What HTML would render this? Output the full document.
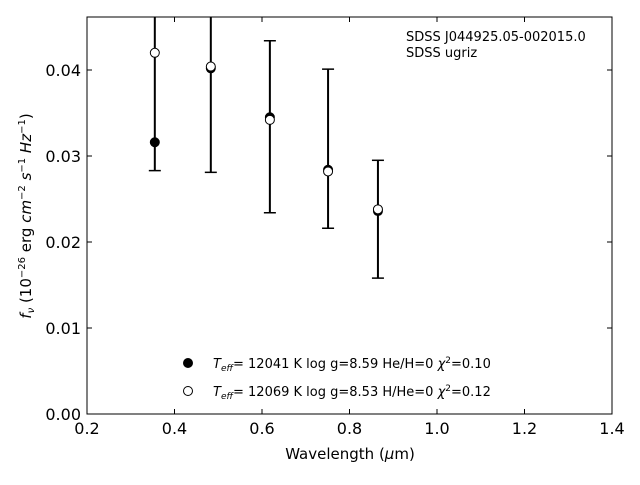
<!DOCTYPE html>
<html><head><meta charset="utf-8"><style>
body{margin:0;background:#fff;}
svg text{font-family:"DejaVu Sans","Liberation Sans",sans-serif;fill:#000;}
</style></head><body>
<svg id="chart" width="640" height="480" xmlns="http://www.w3.org/2000/svg">
<defs><clipPath id="clip"><rect x="87" y="17" width="525" height="397"/></clipPath></defs>
<g id="marks" clip-path="url(#clip)"></g>
<rect x="87" y="17" width="525" height="397" fill="none" stroke="#000" stroke-width="1"/>
<g id="axes"></g>
<text x="406" y="41" font-size="13">SDSS J044925.05-002015.0</text>
<text x="406" y="57" font-size="13">SDSS ugriz</text>
<text x="350" y="459" font-size="15" text-anchor="middle">Wavelength (<tspan font-style="italic">μ</tspan>m)</text>
<text transform="translate(31,216) rotate(-90)" font-size="15" text-anchor="middle"><tspan font-style="italic">f</tspan><tspan font-style="italic" font-size="10" dy="3">ν</tspan><tspan dy="-3"> (10</tspan><tspan font-size="10" dy="-6">−26</tspan><tspan dy="6"> erg </tspan><tspan font-style="italic">cm</tspan><tspan font-size="10" dy="-6">−2</tspan><tspan dy="6"> </tspan><tspan font-style="italic">s</tspan><tspan font-size="10" dy="-6">−1</tspan><tspan dy="6"> </tspan><tspan font-style="italic">Hz</tspan><tspan font-size="10" dy="-6">−1</tspan><tspan dy="6">)</tspan></text>
<g>
<circle cx="188" cy="363" r="4.5" fill="#000" stroke="#000"/>
<text x="213" y="368" font-size="13"><tspan font-style="italic">T</tspan><tspan font-style="italic" font-size="9" dy="3">eff</tspan><tspan dy="-3">= 12041 K  log g=8.59  He/H=0  </tspan><tspan font-style="italic">χ</tspan><tspan font-size="9" dy="-5">2</tspan><tspan dy="5">=0.10</tspan></text>
<circle cx="188" cy="391" r="4.5" fill="#fff" stroke="#000"/>
<text x="213" y="396" font-size="13"><tspan font-style="italic">T</tspan><tspan font-style="italic" font-size="9" dy="3">eff</tspan><tspan dy="-3">= 12069 K  log g=8.53  H/He=0  </tspan><tspan font-style="italic">χ</tspan><tspan font-size="9" dy="-5">2</tspan><tspan dy="5">=0.12</tspan></text>
</g>
</svg>
<script>
const wavelengths=[0.355,0.483,0.618,0.751,0.865];
const fluxObs=[0.0316,0.0402,0.0345,0.0284,0.0236];
const errLow=[0.0283,0.0281,0.0234,0.0216,0.0158];
const errHigh=[0.050,0.050,0.0434,0.0401,0.0295];
const fluxModel=[0.0420,0.0404,0.0342,0.0282,0.0238];
const xTicks=[0.2,0.4,0.6,0.8,1.0,1.2,1.4];
const yTicks=[0,0.01,0.02,0.03,0.04];
const NS="http://www.w3.org/2000/svg";
const X=v=>87+(v-0.2)*525/1.2;
const Y=v=>414-v*8600;
function mk(tag,attrs,parent){const e=document.createElementNS(NS,tag);for(const k in attrs)e.setAttribute(k,attrs[k]);parent.appendChild(e);return e;}
const axes=document.getElementById('axes'),marks=document.getElementById('marks');
xTicks.forEach(t=>{const x=X(t);
 let l=mk('line',{x1:x,x2:x,y1:414,y2:409,stroke:'#000'},axes);
 
 
 let l2=mk('line',{x1:x,x2:x,y1:17,y2:22,stroke:'#000'},axes);
 
 
 const tx=mk('text',{x:x,y:434,'font-size':16,'text-anchor':'middle'},axes);tx.textContent=t.toFixed(1);
 
 
});
yTicks.forEach(t=>{const y=Y(t);
 let l=mk('line',{x1:87,x2:92,y1:y,y2:y,stroke:'#000'},axes);
 
 
 let l2=mk('line',{x1:607,x2:612,y1:y,y2:y,stroke:'#000'},axes);
 
 
 const tx=mk('text',{x:81,y:y+6,'font-size':16,'text-anchor':'end'},axes);tx.textContent=t.toFixed(2);
 
 
});
wavelengths.forEach((w,i)=>{const x=X(w);
 const g=mk('g',{},marks);
 
 
 mk('line',{x1:x,x2:x,y1:Y(errLow[i]),y2:Y(errHigh[i]),stroke:'#000','stroke-width':2},g);
 mk('line',{x1:x-6,x2:x+6,y1:Y(errLow[i]),y2:Y(errLow[i]),stroke:'#000','stroke-width':1.5},g);
 mk('line',{x1:x-6,x2:x+6,y1:Y(errHigh[i]),y2:Y(errHigh[i]),stroke:'#000','stroke-width':1.5},g);
});
wavelengths.forEach((w,i)=>{
 const c=mk('circle',{cx:X(w),cy:Y(fluxObs[i]),r:4.5,fill:'#000',stroke:'#000'},marks);
 
 
 const o=mk('circle',{cx:X(w),cy:Y(fluxModel[i]),r:4.5,fill:'#fff',stroke:'#000'},marks);
 
 
});
</script>
</body></html>
